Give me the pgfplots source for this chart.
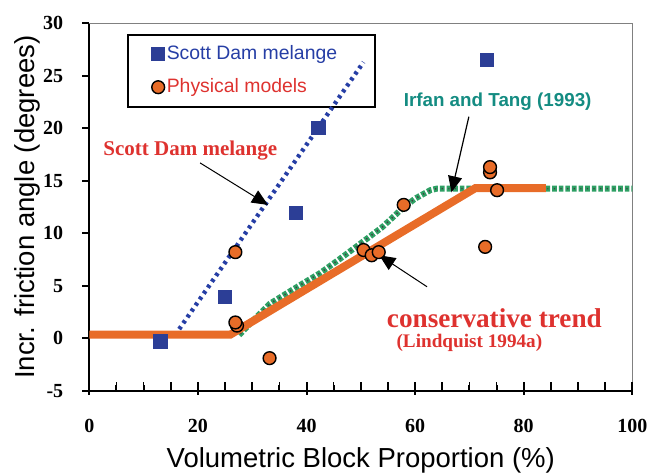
\documentclass[border=0pt]{standalone}
\usepackage{fontspec}
\setmainfont{Liberation Serif}
\setsansfont{Liberation Sans}
\usepackage{pgfplots}
\pgfplotsset{compat=1.18}
\usetikzlibrary{arrows.meta}
\definecolor{sqblue}{RGB}{44,62,150}
\definecolor{lnblue}{RGB}{38,62,165}
\definecolor{orng}{RGB}{232,108,40}
\definecolor{grn}{RGB}{46,160,100}
\definecolor{teal2}{RGB}{20,140,130}
\definecolor{redtxt}{RGB}{222,50,47}
\begin{document}
\begin{tikzpicture}
\begin{axis}[
  scale only axis, width=271.5pt, height=183.7pt,
  xmin=0, xmax=100, ymin=-5, ymax=30,
  axis lines=left, axis line style={-, line width=0.9pt, black},
  tick align=inside,
  xtick={0,20,...,100}, minor x tick num=3,
  major tick length=4.5pt, minor tick length=3pt,
  every tick/.style={line width=1pt, black},
  ytick=\empty,
  extra y ticks={-5,0,5,10,15,20,25,30},
  extra y tick style={tick align=outside, major tick length=3.5pt},
  extra x ticks={0,20,40,60,80,100}, extra x tick labels={},
  extra x tick style={tick align=outside, major tick length=2pt},
  ticklabel style={font=\fontsize{10}{11}\selectfont\bfseries},
  /pgf/number format/assume math mode=true,
  yticklabel style={xshift=-6pt},
  xticklabel style={yshift=-10.5pt},
  every axis x label/.style={at={(axis description cs:0.5,-0.2096)}, anchor=base},
  every axis y label/.style={at={(axis description cs:-0.1013,0.5)}, anchor=base, rotate=90},
  xlabel={\fontsize{13.75}{16}\selectfont\sffamily Volumetric Block Proportion (\%)},
  ylabel={\fontsize{13.75}{16}\selectfont\sffamily Incr. friction angle (degrees)},
  clip=false,
  legend image code/.code={\draw[#1] plot coordinates {(0.12cm,0cm)};},
  legend style={draw=none, fill=none, at={(axis cs:11.4,28.1)}, anchor=north west,
    inner sep=0pt, row sep=6pt, font=\fontsize{9.7}{11}\selectfont\sffamily,
    nodes={inner sep=1pt}},
  legend cell align=left,
]
% frame on top and right
\draw[gray, line width=0.7pt] (rel axis cs:0,1) -- (rel axis cs:1,1) -- (rel axis cs:1,0);
% legend box
\draw[black, line width=0.9pt] (axis cs:7.07,28.9) rectangle (axis cs:52.6,22.0);
% Irfan and Tang
\addplot[forget plot, grn, line width=3pt, dash pattern=on 2.3pt off 1pt] coordinates {
(27.6,0.3) (30,1.6) (33.3,3.3) (38,4.8) (42.5,6.2) (46,7.5) (49.9,9.0) (54,10.6) (57.3,12.2) (60,13.3) (62.8,14.1) (64,14.25) (100,14.25)};
\addplot[forget plot, black!75, line width=0.8pt, dash pattern=on 0.6pt off 2.7pt, dash phase=2.45pt] coordinates {
(27.6,0.3) (30,1.6) (33.3,3.3) (38,4.8) (42.5,6.2) (46,7.5) (49.9,9.0) (54,10.6) (57.3,12.2) (60,13.3) (62.8,14.1) (64,14.25) (100,14.25)};
% Scott Dam trend
\addplot[forget plot, lnblue, line width=2.2pt, dash pattern=on 1.6pt off 2pt] coordinates {(15.8,0.3) (50.5,26.3)};
% Scott Dam melange data
\addplot[only marks, mark=square*, mark size=3.3pt, color=sqblue] coordinates {
(13.1,-0.3) (24.9,3.9) (38,11.9) (42.2,20.0) (73.2,26.5)};
\addlegendentry{\textcolor{lnblue}{Scott Dam melange}}
% Physical models
\addplot[only marks, mark=*, mark size=3.2pt, mark options={fill=orng, draw=black, line width=0.7pt}] coordinates {
(26.9,8.2) (27.2,1.2) (26.9,1.5) (33.2,-1.9) (50.5,8.4) (52.0,7.9) (53.3,8.2) (57.9,12.7) (72.9,8.7) (73.8,15.8) (73.8,16.3) (75.1,14.1)};
\addlegendentry{\textcolor{redtxt}{Physical models}}
% conservative trend
\addplot[forget plot, orng, line width=4pt] coordinates {(0,0.35) (26,0.35) (71.1,14.3) (84.1,14.3)};
% annotations
\node[anchor=base, font=\fontsize{10.5}{12}\selectfont\bfseries, text=redtxt] at (axis cs:18.6,17.4) {Scott Dam melange};
\draw[line width=0.5pt, -{Triangle[length=8pt,width=7pt]}] (axis cs:20.4,16.7) -- (axis cs:32.9,12.7);
\node[anchor=base, font=\fontsize{9.4}{11}\selectfont\sffamily\bfseries, text=teal2] at (axis cs:75.2,22.1) {Irfan and Tang (1993)};
\draw[line width=0.6pt, -{Triangle[length=8pt,width=7pt]}] (axis cs:69.9,21.1) -- (axis cs:66.7,13.9);
\node[anchor=base, font=\fontsize{13.6}{15}\selectfont\bfseries, text=redtxt] at (axis cs:74.6,1.05) {conservative trend};
\node[anchor=base, font=\fontsize{9.6}{11}\selectfont\bfseries, text=redtxt] at (axis cs:70.0,-0.86) {(Lindquist 1994a)};
\draw[line width=0.5pt, -{Triangle[length=8pt,width=7pt]}] (axis cs:62.2,4.9) -- (axis cs:53.4,7.9);
\end{axis}
% tick marks as thin filled bars
\foreach \i in {1,...,19} \fill[black] ([xshift=\i*13.575pt-0.4pt, yshift=1.5pt]current axis.south west) rectangle ++(0.8pt,2.9pt);
\foreach \i in {0,...,5} \fill[black] ([xshift=\i*54.3pt-0.5pt, yshift=-2pt]current axis.south west) rectangle ++(1pt,6.5pt);
\foreach \j in {0,...,7} \fill[black] ([xshift=-3.5pt, yshift=\j*26.2429pt-0.5pt]current axis.south west) rectangle ++(3.5pt,1pt);
\pgfresetboundingbox
\path[use as bounding box] ([shift={(-44.65pt,-41.65pt)}]current axis.south west) rectangle ([shift={(7.85pt,11.65pt)}]current axis.north east);
\end{tikzpicture}
\end{document}
